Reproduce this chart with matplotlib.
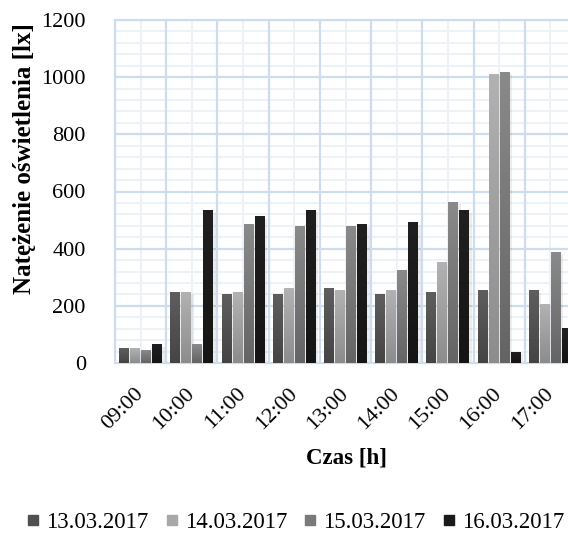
import numpy as np
import matplotlib
matplotlib.use("Agg")
import matplotlib.pyplot as plt
from matplotlib.colors import LinearSegmentedColormap
from matplotlib.lines import Line2D
from matplotlib.ticker import MultipleLocator, FixedLocator

hours = ["09:00", "10:00", "11:00", "12:00", "13:00", "14:00", "15:00", "16:00", "17:00"]
series_names = ["13.03.2017", "14.03.2017", "15.03.2017", "16.03.2017"]
d13 = [52, 245, 241, 241, 262, 241, 248, 255, 252]
d14 = [49, 248, 248, 262, 252, 255, 350, 1008, 203]
d15 = [45, 66, 486, 476, 476, 322, 563, 1018, 388]
d16 = [63, 532, 511, 535, 483, 490, 532, 38, 119]
series = [d13, d14, d15, d16]

top_colors = ["#5e5e5e", "#b2b2b2", "#8a8a8a", "#202020"]
bot_colors = ["#444444", "#8c8c8c", "#646464", "#151515"]
legend_colors = ["#505050", "#a8a8a8", "#7a7a7a", "#1a1a1a"]

plt.rcParams['font.family'] = ['Liberation Serif', 'DejaVu Serif']

W, H = 568, 535
fig = plt.figure(figsize=(W / 100, H / 100), dpi=100)
ax_l, ax_r, ax_t, ax_b = 115, 576, 20, 363
ax = fig.add_axes([ax_l / W, 1 - ax_b / H, (ax_r - ax_l) / W, (ax_b - ax_t) / H])

x = np.arange(len(hours))
width = 0.195
step = 0.215
offsets = (np.arange(4) - 1.5) * step

for i, vals in enumerate(series):
    bars = ax.bar(x + offsets[i], vals, width=width, color=legend_colors[i], zorder=3,
                  linewidth=0)
    cmap = LinearSegmentedColormap.from_list(f"g{i}", [bot_colors[i], top_colors[i]])
    grad = np.linspace(0, 1, 256).reshape(-1, 1)
    for b in bars:
        bx, by = b.get_x(), b.get_y()
        bw, bh = b.get_width(), b.get_height()
        ax.add_patch(plt.Rectangle((bx + 0.03, by), bw + 0.02, max(bh - 6, 0), color="#000000",
                                   alpha=0.07, zorder=2, linewidth=0))
        ax.imshow(grad, cmap=cmap, origin="lower", aspect="auto",
                  extent=(bx, bx + bw, by, by + bh), zorder=3.5, interpolation="bilinear")

ax.set_xlim(-0.5, len(hours) - 0.5)
ax.set_ylim(0, 1200)

ax.yaxis.set_major_locator(MultipleLocator(200))
ax.set_xticks(x)
ax.set_xticklabels(hours, rotation=45, ha="right", va="center", rotation_mode="anchor",
                   fontsize=16)
ax.tick_params(axis="y", labelsize=16, length=0, pad=21)
ax.tick_params(axis="x", length=0, pad=20)

for yv in np.arange(0, 1201, 40):
    major = (yv % 200 == 0)
    ax.axhline(yv, color="#cddcee" if major else "#edf2f9", lw=1.6 if major else 1.4,
               zorder=1 if major else 0.5)
for xv in np.arange(len(hours) + 1) - 0.5:
    ax.axvline(xv, color="#cddcee", lw=1.6, zorder=1)
for xv in x:
    ax.axvline(xv, color="#edf2f9", lw=1.4, zorder=0.5)

for s in ax.spines.values():
    s.set_color("#cddcee")
    s.set_linewidth(1.6)

ax.set_ylabel("Natężenie oświetlenia [lx]", fontsize=18, fontweight="bold")
ax.yaxis.set_label_coords((25 - ax_l) / (ax_r - ax_l), (ax_b - 159) / (ax_b - ax_t))
ax.set_xlabel("Czas [h]", fontsize=16.5, fontweight="bold")
ax.xaxis.set_label_coords((346 - ax_l) / (ax_r - ax_l), (ax_b - 458) / (ax_b - ax_t))
ax.xaxis.label.set_va("center")
ax.yaxis.label.set_va("center")

handles = [Line2D([0], [0], marker="s", linestyle="none", markersize=7.2,
                  markerfacecolor=c, markeredgecolor=c) for c in legend_colors]
fig.legend(handles, series_names, loc="center", bbox_to_anchor=(296 / W, 1 - 522 / H),
           ncol=4, frameon=False, fontsize=16.5, handlelength=0.44, handletextpad=0.35,
           columnspacing=0.79, borderpad=0)

fig.savefig("out.png", dpi=100)
